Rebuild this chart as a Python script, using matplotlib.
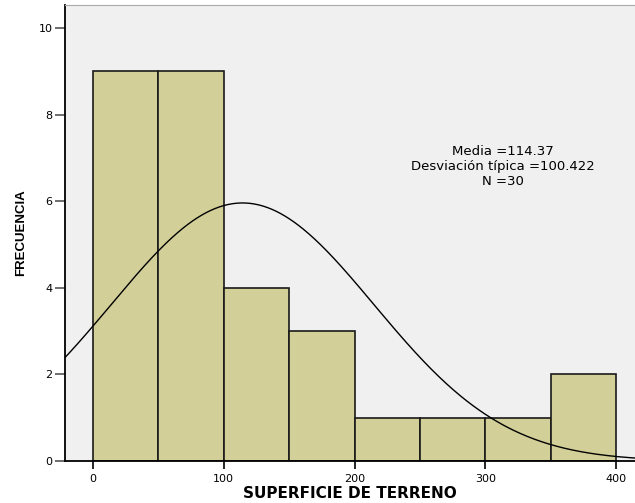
import numpy as np
import matplotlib.pyplot as plt

# histogram of land surface, bins of width 50
bin_edges = [0, 50, 100, 150, 200, 250, 300, 350, 400]
counts = [9, 9, 4, 3, 1, 1, 1, 2]
mean = 114.37
std = 100.422
n = 30

plt.rcParams['font.family'] = ['DejaVu Sans']

fig = plt.figure(figsize=(6.35, 5.03), dpi=100)
ax = fig.add_axes([65 / 635, 42 / 503, 570 / 635, 456 / 503])
ax.set_facecolor('#f0f0f0')

lefts = np.array(bin_edges[:-1])
widths = np.diff(bin_edges)
ax.bar(lefts, counts, width=widths, align='edge', color='#d3cf98',
       edgecolor='#1a1a1a', linewidth=1.2, zorder=2)

# fitted normal curve scaled to counts
xs = np.linspace(-30, 420, 400)
bw = widths[0]
ys = n * bw / (std * np.sqrt(2 * np.pi)) * np.exp(-0.5 * ((xs - mean) / std) ** 2)
ax.plot(xs, ys, color='black', linewidth=1.0, zorder=3)

ax.set_xlim(-21.4, 414.5)
ax.set_ylim(0, 10.53)
ax.set_xticks([0, 100, 200, 300, 400])
ax.set_yticks([0, 2, 4, 6, 8, 10])
ax.tick_params(axis='both', length=7, width=1.2, color='#555555',
               labelsize=8, pad=2)
ax.tick_params(axis='x', length=6, color='black', pad=3)

ax.spines['right'].set_visible(False)
ax.spines['top'].set_color('#aaaaaa')
ax.spines['left'].set_linewidth(1.3)
ax.spines['bottom'].set_linewidth(1.3)

ax.text(313.6, 6.81, 'Media =114.37\nDesviación típica =100.422\nN =30',
        ha='center', va='center', fontsize=9.5, linespacing=1.2)

ax.set_xlabel('SUPERFICIE DE TERRENO', fontsize=11, fontweight='bold', labelpad=2)
ax.set_ylabel('FRECUENCIA', fontsize=9.5, fontweight='bold', labelpad=8,
              family=['Liberation Sans', 'DejaVu Sans'])

fig.savefig('out.png', dpi=100)
